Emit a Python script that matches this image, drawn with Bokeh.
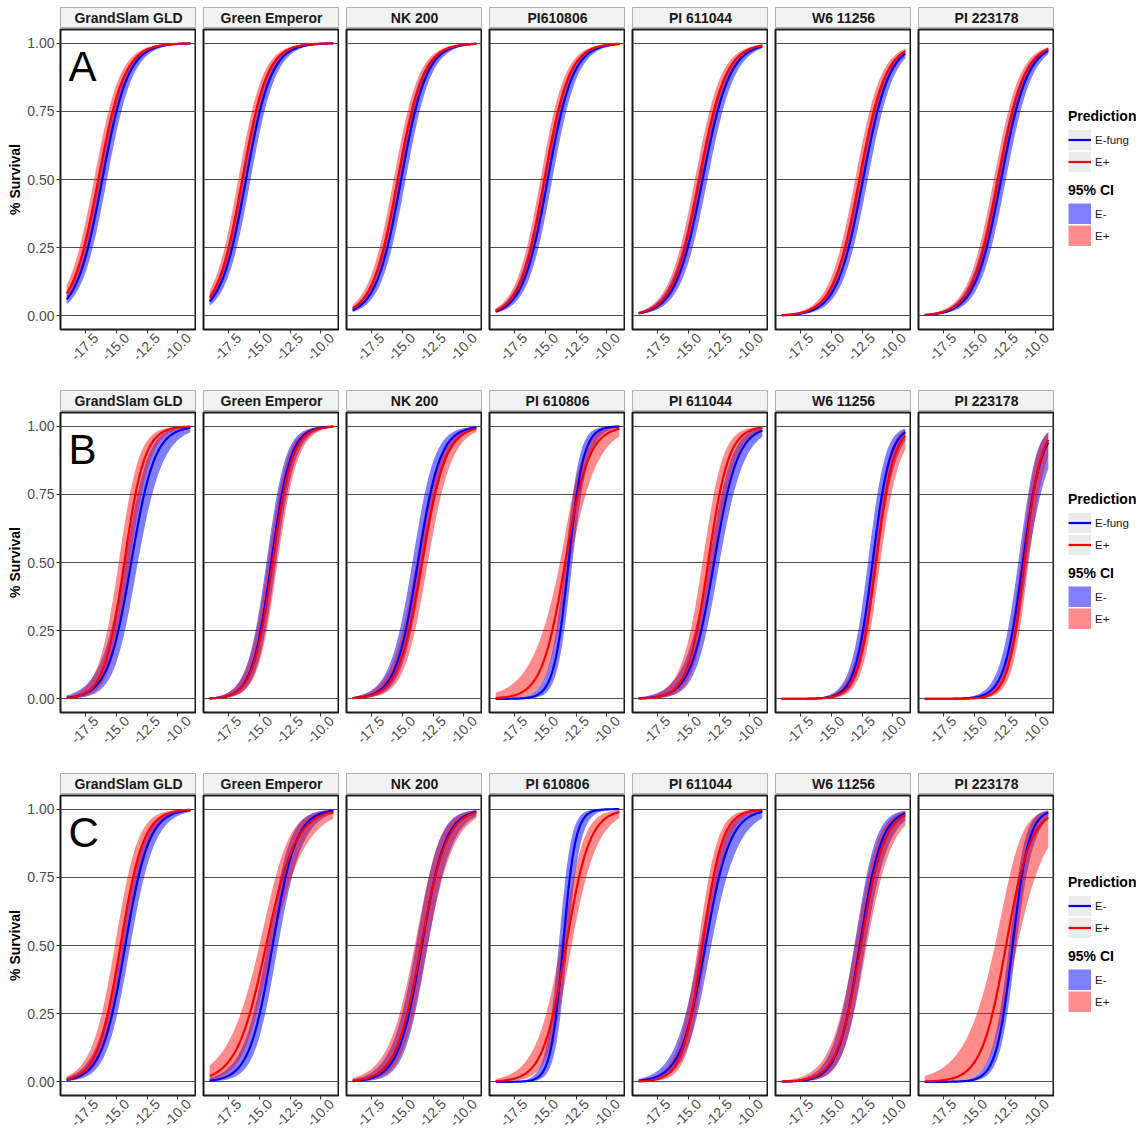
import numpy as np
from bokeh.plotting import figure
from bokeh.layouts import row, column
from bokeh.models import (Range1d, FixedTicker, PrintfTickFormatter, Label, LinearAxis,
                          Legend, LegendItem, ColumnDataSource)
from bokeh.embed import file_html
from bokeh.resources import INLINE
from bokeh.core.properties import value

FONT = "Liberation Sans"

# ---------------- data ----------------
panel_letters = ["A", "B", "C"]
titles_A = ["GrandSlam GLD", "Green Emperor", "NK 200", "PI610806", "PI 611044", "W6 11256", "PI 223178"]
titles_B = ["GrandSlam GLD", "Green Emperor", "NK 200", "PI 610806", "PI 611044", "W6 11256", "PI 223178"]
titles_C = ["GrandSlam GLD", "Green Emperor", "NK 200", "PI 610806", "PI 611044", "W6 11256", "PI 223178"]
pred_labels_A = ["E-fung", "E+"]
pred_labels_B = ["E-fung", "E+"]
pred_labels_C = ["E-", "E+"]
ci_labels = ["E-", "E+"]
x_ticks = [-17.5, -15.0, -12.5, -10.0]
y_ticks = [0.0, 0.25, 0.50, 0.75, 1.00]
temp_min, temp_max = -19.0, -9.0

# fitted logistic curves: temperature at 50 % survival, scale (deg C),
# CI half-width on the logit scale at the midpoint, and its growth per deg C
# below (k_lo) and above (k_hi) the midpoint
A_minus_mid = [-16.12, -16.06, -15.08, -14.79, -13.83, -12.42, -12.82]
A_minus_scale = [1.05, 1.02, 1.02, 1.02, 1.10, 1.06, 1.07]
A_minus_w0 = [0.36, 0.36, 0.36, 0.36, 0.36, 0.36, 0.36]
A_minus_klo = [0.05, 0.05, 0.05, 0.05, 0.05, 0.05, 0.05]
A_minus_khi = [0.05, 0.05, 0.05, 0.05, 0.05, 0.05, 0.05]
A_plus_mid = [-16.44, -16.36, -15.35, -15.05, -14.10, -12.71, -13.06]
A_plus_scale = [1.06, 1.00, 1.03, 1.00, 1.07, 1.06, 1.06]
A_plus_w0 = [0.33, 0.33, 0.33, 0.33, 0.33, 0.33, 0.33]
A_plus_klo = [0.05, 0.05, 0.05, 0.05, 0.05, 0.05, 0.05]
A_plus_khi = [0.05, 0.05, 0.05, 0.05, 0.05, 0.05, 0.05]

B_minus_mid = [-13.78, -14.02, -13.72, -13.10, -12.90, -11.65, -11.06]
B_minus_scale = [0.95, 0.78, 0.90, 0.60, 0.95, 0.70, 0.75]
B_minus_w0 = [0.55, 0.50, 0.50, 0.50, 0.45, 0.53, 0.50]
B_minus_klo = [0.20, 0.15, 0.15, 0.30, 0.20, 0.15, 0.15]
B_minus_khi = [0.24, 0.15, 0.15, 0.35, 0.20, 0.30, 0.45]
B_plus_mid = [-14.34, -13.91, -13.40, -13.38, -13.38, -11.38, -10.93]
B_plus_scale = [0.82, 0.80, 0.95, 0.95, 0.83, 0.72, 0.66]
B_plus_w0 = [0.55, 0.50, 0.50, 0.42, 0.55, 0.47, 0.50]
B_plus_klo = [0.15, 0.15, 0.15, 0.37, 0.20, 0.20, 0.15]
B_plus_khi = [0.15, 0.15, 0.15, 0.30, 0.20, 0.34, 0.35]

C_minus_mid = [-14.26, -13.91, -13.40, -13.55, -13.60, -12.68, -11.89]
C_minus_scale = [0.96, 0.95, 0.95, 0.50, 1.00, 0.88, 0.66]
C_minus_w0 = [0.42, 0.45, 0.50, 0.70, 0.45, 0.50, 0.44]
C_minus_klo = [0.15, 0.20, 0.20, 0.30, 0.14, 0.16, 0.20]
C_minus_khi = [0.15, 0.20, 0.20, 0.40, 0.25, 0.25, 0.33]
C_plus_mid = [-14.65, -14.44, -13.46, -13.30, -13.84, -12.60, -12.42]
C_plus_scale = [0.93, 1.20, 1.02, 0.95, 0.80, 0.95, 1.00]
C_plus_w0 = [0.48, 0.44, 0.50, 0.45, 0.45, 0.50, 0.83]
C_plus_klo = [0.15, 0.21, 0.20, 0.25, 0.20, 0.20, 0.40]
C_plus_khi = [0.15, 0.21, 0.20, 0.25, 0.20, 0.25, 0.40]

rows_data = [
    dict(titles=titles_A, pred=pred_labels_A,
         minus=(A_minus_mid, A_minus_scale, A_minus_w0, A_minus_klo, A_minus_khi),
         plus=(A_plus_mid, A_plus_scale, A_plus_w0, A_plus_klo, A_plus_khi)),
    dict(titles=titles_B, pred=pred_labels_B,
         minus=(B_minus_mid, B_minus_scale, B_minus_w0, B_minus_klo, B_minus_khi),
         plus=(B_plus_mid, B_plus_scale, B_plus_w0, B_plus_klo, B_plus_khi)),
    dict(titles=titles_C, pred=pred_labels_C,
         minus=(C_minus_mid, C_minus_scale, C_minus_w0, C_minus_klo, C_minus_khi),
         plus=(C_plus_mid, C_plus_scale, C_plus_w0, C_plus_klo, C_plus_khi)),
]

# ---------------- styling ----------------
BLUE = "#0000ff"
RED = "#ff0000"
BLUE_ALPHA = 0.5
RED_ALPHA = 0.45
TICK_TEXT = "#4d4d4d"
FRAME_W, FRAME_H = 136, 300
LEFT0, GAP = 60, 7
TOP0 = 7
ROW_BOTTOM = 61
LAST_BOTTOM = 0
X_RANGE = (-19.5, -8.5)
Y_RANGE = (-0.05, 1.05)
LABEL_SHIFT = 0.85   # slanted tick labels sit centred under their ticks (ggplot hjust=0.5)
temperature = np.linspace(temp_min, temp_max, 161)


def expit(z):
    return 1.0 / (1.0 + np.exp(-z))


def predict(mid, scale, w0, k_lo, k_hi):
    d = temperature - mid
    eta = d / scale
    k = np.where(d < 0, k_lo, k_hi)
    se = np.sqrt(w0 ** 2 + (k * d) ** 2)
    return expit(eta), expit(eta - se), expit(eta + se)


def make_strip(r, title, first):
    s = figure(frame_width=FRAME_W, frame_height=20, x_range=Range1d(0, 1), y_range=Range1d(0, 1),
               x_axis_location=None, y_axis_location=None, output_backend="svg",
               toolbar_location=None, min_border_left=LEFT0 if first else GAP,
               min_border_right=0, min_border_top=TOP0 if r == 0 else 0, min_border_bottom=1)
    s.grid.visible = False
    s.background_fill_color = "#f2f2f2"
    s.border_fill_color = "white"
    s.outline_line_color = "#b0b0b0"
    s.outline_line_width = 1
    s.text(x=[0.5], y=[0.5], text=[title], text_align="center", text_baseline="middle",
           text_font=value(FONT), text_font_style="bold", text_font_size="14px",
           text_color="#1a1a1a")
    return s


def make_panel(r, c, rd):
    first = c == 0
    bottom = LAST_BOTTOM if r == 2 else ROW_BOTTOM
    p = figure(frame_width=FRAME_W, frame_height=FRAME_H,
               x_range=Range1d(*X_RANGE), y_range=Range1d(*Y_RANGE),
               y_axis_location="left" if first else None,
               output_backend="svg", toolbar_location=None,
               min_border_left=LEFT0 if first else GAP, min_border_right=0,
               min_border_top=1, min_border_bottom=bottom)
    p.background_fill_color = "white"
    p.border_fill_color = "white"
    p.outline_line_color = "#1a1a1a"
    p.outline_line_width = 2
    p.xgrid.visible = False
    p.ygrid.ticker = FixedTicker(ticks=y_ticks)
    p.ygrid.grid_line_color = "#4d4d4d"
    p.ygrid.grid_line_width = 1

    # tick marks (no labels) on the true temperature scale
    ax = p.xaxis[0]
    ax.ticker = FixedTicker(ticks=x_ticks)
    ax.axis_line_color = None
    ax.major_tick_line_color = "#333333"
    ax.major_tick_out = 4
    ax.major_tick_in = 0
    ax.minor_tick_line_color = None
    ax.major_label_standoff = 0
    ax.major_label_text_color = None

    # slanted tick labels, centred under the ticks
    p.extra_x_ranges = {"labels": Range1d(X_RANGE[0] - LABEL_SHIFT, X_RANGE[1] - LABEL_SHIFT)}
    lab = LinearAxis(x_range_name="labels", ticker=FixedTicker(ticks=x_ticks),
                     formatter=PrintfTickFormatter(format="%.1f"))
    lab.axis_line_color = None
    lab.major_tick_line_color = None
    lab.minor_tick_line_color = None
    lab.major_tick_out = 0
    lab.major_tick_in = 0
    lab.major_label_orientation = np.pi / 4
    lab.major_label_standoff = 2
    lab.major_label_text_font = FONT
    lab.major_label_text_font_size = "14px"
    lab.major_label_text_color = TICK_TEXT
    p.add_layout(lab, "below")

    if first:
        ay = p.yaxis[0]
        ay.ticker = FixedTicker(ticks=y_ticks)
        ay.formatter = PrintfTickFormatter(format="%.2f")
        ay.axis_line_color = None
        ay.major_tick_line_color = "#333333"
        ay.major_tick_out = 4
        ay.major_tick_in = 0
        ay.minor_tick_line_color = None
        ay.major_label_standoff = 2
        ay.major_label_text_font = FONT
        ay.major_label_text_font_size = "14px"
        ay.major_label_text_color = TICK_TEXT
        ay.axis_label = "% Survival"
        ay.axis_label_text_font = FONT
        ay.axis_label_text_font_style = "bold"
        ay.axis_label_text_font_size = "14px"
        ay.axis_label_text_color = "black"
        ay.axis_label_standoff = 1

    m_fit, m_lo, m_hi = predict(*(arr[c] for arr in rd["minus"]))
    p_fit, p_lo, p_hi = predict(*(arr[c] for arr in rd["plus"]))
    src = ColumnDataSource(dict(temp=temperature, m_fit=m_fit, m_lo=m_lo, m_hi=m_hi,
                                p_fit=p_fit, p_lo=p_lo, p_hi=p_hi))
    p.varea(x="temp", y1="m_lo", y2="m_hi", source=src, fill_color=BLUE, fill_alpha=BLUE_ALPHA)
    p.varea(x="temp", y1="p_lo", y2="p_hi", source=src, fill_color=RED, fill_alpha=RED_ALPHA)
    p.line(x="temp", y="m_fit", source=src, line_color=BLUE, line_width=2.2)
    p.line(x="temp", y="p_fit", source=src, line_color=RED, line_width=2.2)

    if first:
        p.add_layout(Label(x=-18.85, y=0.916, text=panel_letters[r], text_font=FONT,
                           text_font_size="42px", text_baseline="middle",
                           text_align="left", text_color="black"))
    return p


def make_legend_fig(r, rd):
    bottom = 40 if r == 2 else ROW_BOTTOM
    lg = figure(frame_width=82, frame_height=FRAME_H, x_range=Range1d(0, 1), y_range=Range1d(0, 1),
                x_axis_location=None, y_axis_location=None, output_backend="svg",
                toolbar_location=None, min_border_left=0, min_border_right=0,
                min_border_top=1, min_border_bottom=bottom)
    lg.grid.visible = False
    lg.outline_line_color = None
    lg.background_fill_color = "white"
    lg.border_fill_color = "white"

    nan = [float("nan")]
    key_bg1 = lg.line(x=nan, y=nan, line_color="#ebebeb", line_width=20)
    key_bg2 = lg.line(x=nan, y=nan, line_color="#ebebeb", line_width=20)
    key_blue = lg.line(x=nan, y=nan, line_color=BLUE, line_width=2.2)
    key_red = lg.line(x=nan, y=nan, line_color=RED, line_width=2.2)
    ci_blue = lg.line(x=nan, y=nan, line_color=BLUE, line_alpha=BLUE_ALPHA, line_width=21)
    ci_red = lg.line(x=nan, y=nan, line_color=RED, line_alpha=RED_ALPHA, line_width=21)

    common = dict(orientation="vertical", glyph_width=23, glyph_height=21, label_height=21,
                  label_standoff=4, spacing=1, padding=0, margin=0,
                  border_line_color=None, background_fill_alpha=0,
                  title_text_font=FONT, title_text_font_style="bold",
                  title_text_font_size="14px", title_text_color="black", title_standoff=5,
                  label_text_font=FONT, label_text_font_size="11.5px",
                  label_text_color="#1a1a1a")
    leg1 = Legend(items=[LegendItem(label=rd["pred"][0], renderers=[key_bg1, key_blue]),
                         LegendItem(label=rd["pred"][1], renderers=[key_bg2, key_red])],
                  title="Prediction", location=(14, 157), **common)
    leg2 = Legend(items=[LegendItem(label=ci_labels[0], renderers=[ci_blue]),
                         LegendItem(label=ci_labels[1], renderers=[ci_red])],
                  title="95% CI", location=(14, 83), **common)
    lg.add_layout(leg1)
    lg.add_layout(leg2)
    return lg


blocks = []
for r, rd in enumerate(rows_data):
    strips = [make_strip(r, rd["titles"][c], c == 0) for c in range(7)]
    panels = [make_panel(r, c, rd) for c in range(7)]
    blocks.append(row(*strips, spacing=0))
    blocks.append(row(*panels, make_legend_fig(r, rd), spacing=0))

layout = column(*blocks, spacing=0)

with open("out.html", "w") as f:
    f.write(file_html(layout, INLINE))
